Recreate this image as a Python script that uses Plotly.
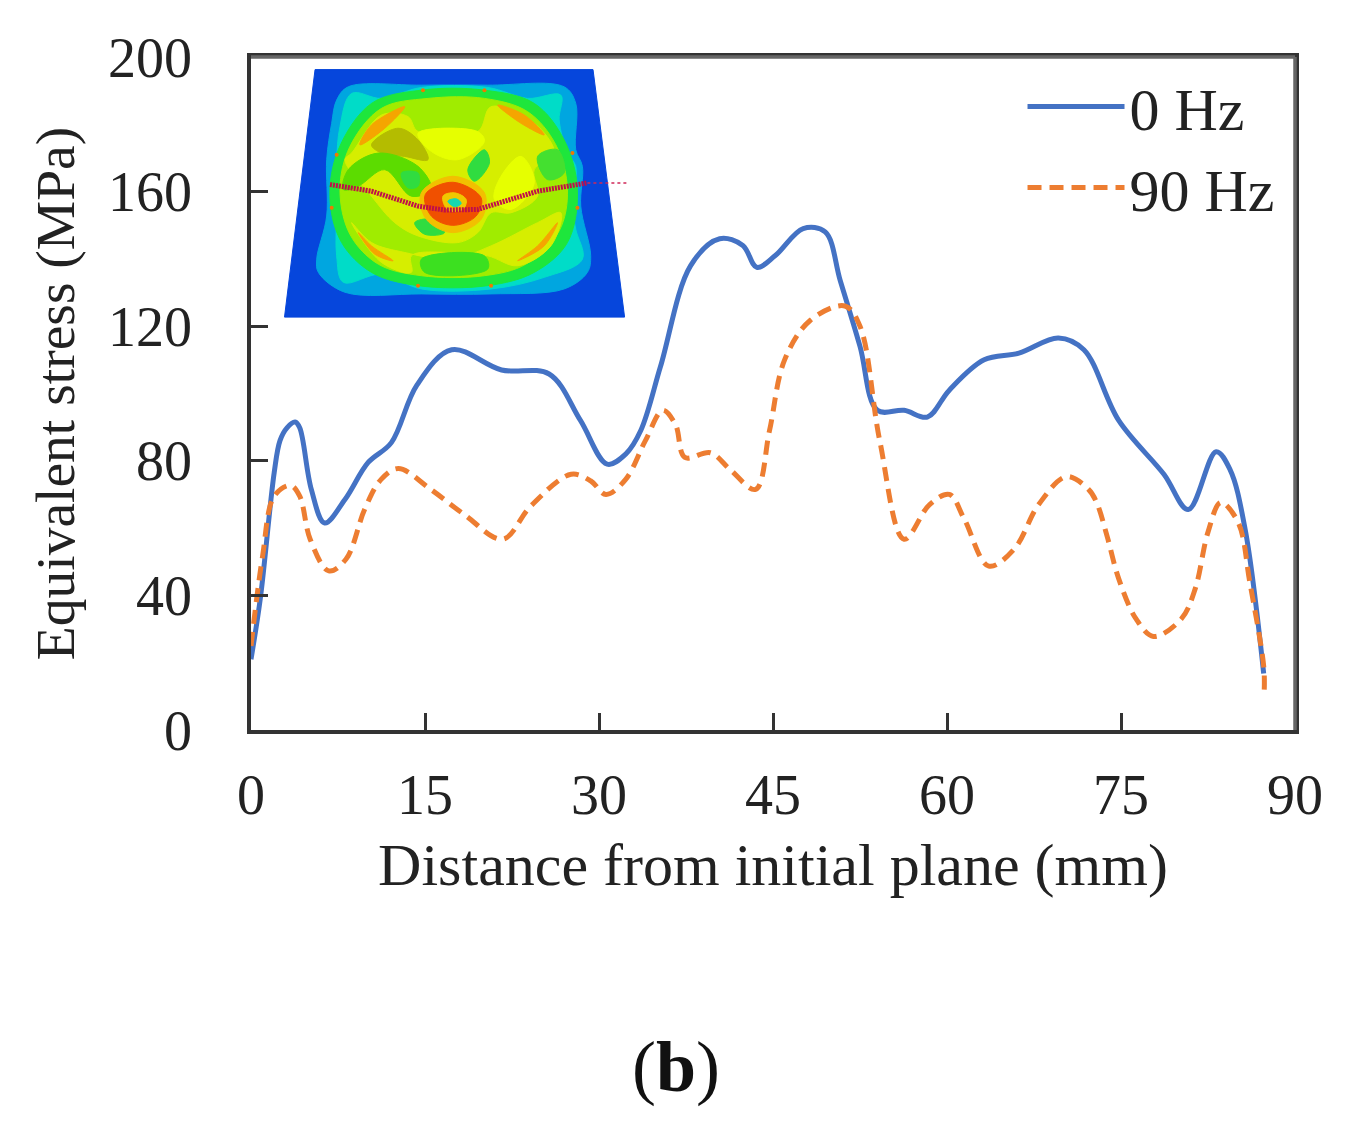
import plotly.graph_objects as go

# values
x_0hz = [0, 0.8, 2, 2.5, 3.1, 3.8, 4.2, 5.2, 6.35, 8.1, 10.1, 12.1, 14.3, 17.3, 21.6, 25.7, 28.4,
         30.7, 32.3, 33.6, 35.3, 37.9, 40.4, 42.4, 43.6, 45.2, 47.6, 49.5, 50.8, 52.5, 54,
         56.3, 58.3, 60.2, 63.2, 66.2, 69.6, 71.8, 74.8, 78.7, 80.8, 83.2, 84.4, 85.7, 87.3]
y_0hz = [21, 39, 76.5, 86, 89.8, 91.5, 89.8, 71.5, 61.5, 68.5, 79.5, 85.4, 102.5, 113, 107, 105.8, 92,
         79, 82, 89, 108, 138, 146, 144, 137.5, 141, 149, 148, 133.5, 114, 95,
         95, 93, 101, 110, 112, 116.5, 113, 92, 76, 65.5, 82.7, 77.4, 59.7, 16.8]

x_90hz = [0, 1, 2, 3.4, 4.2, 5.1, 6.7, 8.2, 9.8, 11.2, 12.7, 15.5, 18.4, 21.7, 24.1, 27.6, 29.3,
          30.6, 32.3, 34, 35.5, 36.6, 37.4, 39.6, 41.3, 43.5, 44.7, 46, 48.2, 51.2, 52.5, 54.2,
          56.3, 58.5, 60.2, 61.5, 63.6, 65.8, 67.9, 70.3, 72.2, 72.9, 73.8, 74.8, 76.3, 77.8,
          80.2, 81.4, 82.5, 83.6, 85.1, 86.1, 87.3, 87.35]
y_90hz = [25, 51.7, 69.5, 72.7, 69.5, 56.7, 47.3, 50.8, 65.6, 74.4, 77.7, 71.5, 64, 56.7, 66.5, 76, 74,
          70, 74.5, 86, 95, 90.7, 81, 82.4, 77.4, 71.5, 89, 110, 121.7, 126, 120, 86,
          56.7, 67, 70, 62.6, 48.7, 53.8, 67, 75.3, 71.5, 67.6, 57.6, 45, 33, 27.8,
          33, 42, 58.8, 67.6, 61.7, 44, 19, 12]

x_ticks = [0, 15, 30, 45, 60, 75, 90]
y_ticks = [0, 40, 80, 120, 160, 200]

# inset contour picture, as (colour, outline) layers
inset_plate = ("#0646dc", [(130, 38), (967, 38), (1062, 785), (38, 785)])
inset_smooth = [
    ("#00a6e0", [(230, 90), (450, 85), (650, 85), (880, 90), (915, 140), (915, 280), (935, 330), (930, 450),
                 (960, 600), (950, 650), (880, 700), (660, 715), (450, 715), (220, 710), (140, 650), (135, 610),
                 (165, 480), (165, 310), (180, 200), (195, 130)]),
    ("#00dcc8", [(240, 110), (330, 125), (450, 92), (650, 92), (770, 125), (870, 115), (865, 190), (890, 290),
                 (915, 330), (905, 450), (915, 520), (935, 610), (820, 665), (660, 700), (450, 700), (330, 655),
                 (215, 680), (195, 600), (195, 470), (195, 320), (205, 210)]),
    ("#1ee63c", [(450, 100), (640, 100), (790, 140), (880, 250), (920, 400), (890, 560), (790, 650), (650, 690),
                 (440, 690), (300, 650), (210, 560), (175, 430), (200, 280), (300, 140)]),
    ("#a0ec00", [(470, 125), (640, 125), (770, 165), (855, 265), (890, 400), (865, 525), (765, 625), (640, 660),
                 (450, 660), (320, 625), (235, 535), (205, 400), (235, 270), (330, 155)]),
    ("#d6ee00", [(240, 290), (330, 175), (410, 180), (440, 225), (620, 225), (660, 150), (790, 200), (850, 290),
                 (790, 340), (800, 420), (720, 470), (660, 470), (620, 530), (560, 560), (440, 540), (370, 500),
                 (300, 420), (220, 310)]),
    ("#d6ee00", [(240, 500), (300, 560), (400, 590), (540, 610), (660, 570), (800, 500), (870, 470), (840, 570),
                 (740, 630), (650, 600), (540, 590), (420, 600), (420, 650), (330, 620)]),
    ("#b4bc00", [(300, 265), (380, 215), (440, 250), (470, 310), (400, 300), (330, 290)]),
    ("#e6ff00", [(440, 230), (620, 225), (640, 255), (560, 310), (480, 285)]),
    ("#e6ff00", [(690, 360), (750, 300), (790, 380), (720, 460), (670, 430)]),
    ("#5cdc00", [(230, 340), (320, 290), (440, 330), (480, 400), (420, 420), (340, 340), (260, 390), (215, 400)]),
    ("#30dc40", [(590, 340), (640, 280), (655, 320), (610, 375)]),
    ("#30dc40", [(390, 350), (440, 350), (440, 390), (410, 395)]),
    ("#44e030", [(800, 300), (860, 280), (880, 350), (830, 370)]),
    ("#30dc40", [(430, 500), (480, 490), (520, 530), (460, 535)]),
    ("#3ce020", [(450, 610), (640, 600), (650, 640), (460, 650)]),
    ("#f5a500", [(265, 265), (300, 205), (400, 150), (340, 215)]),
    ("#f5a500", [(680, 145), (760, 175), (820, 235), (750, 200)]),
    ("#f5a500", [(260, 530), (300, 570), (365, 615), (310, 595)]),
    ("#f5a500", [(740, 615), (800, 570), (860, 500), (820, 570)]),
    ("#f2c000", [(450, 410), (545, 360), (640, 410), (630, 490), (545, 530), (465, 490)]),
    ("#f05000", [(462, 415), (545, 378), (630, 425), (615, 480), (545, 508), (480, 480)]),
    ("#f0c800", [(515, 420), (550, 410), (585, 430), (575, 460), (530, 462)]),
    ("#16d8b0", [(530, 435), (555, 428), (570, 442), (550, 452)]),
]
inset_spots_x = [455, 640, 195, 905, 180, 920, 440, 660]
inset_spots_y = [100, 100, 295, 290, 455, 455, 690, 690]
path_x = [175, 300, 440, 520, 620, 800, 950]
path_y = [385, 405, 450, 462, 460, 405, 380]
path_end_x = [950, 1070]
path_end_y = [380, 380]

fig = go.Figure()


def add_layer(colour, outline, shape="linear"):
    xs = [p[0] for p in outline] + [outline[0][0]]
    ys = [p[1] for p in outline] + [outline[0][1]]
    fig.add_trace(go.Scatter(x=xs, y=ys, mode="lines", fill="toself", fillcolor=colour,
                             line=dict(color=colour, width=1, shape=shape),
                             xaxis="x2", yaxis="y2", showlegend=False, hoverinfo="skip"))


add_layer(*inset_plate)
for colour, outline in inset_smooth:
    add_layer(colour, outline, "spline")
fig.add_trace(go.Scatter(x=inset_spots_x, y=inset_spots_y, mode="markers",
                         marker=dict(color="#f07800", size=4), xaxis="x2", yaxis="y2",
                         showlegend=False, hoverinfo="skip"))
fig.add_trace(go.Scatter(x=path_x, y=path_y, mode="lines", line=dict(color="#c01048", width=5, dash="2px,1px"),
                         xaxis="x2", yaxis="y2", showlegend=False, hoverinfo="skip"))
fig.add_trace(go.Scatter(x=path_end_x, y=path_end_y, mode="lines", line=dict(color="#d02858", width=1.5, dash="dot"),
                         xaxis="x2", yaxis="y2", showlegend=False, hoverinfo="skip"))

fig.add_trace(go.Scatter(x=x_0hz, y=y_0hz, name="0 Hz", mode="lines", legendgroup="a",
                         line=dict(color="#4472c4", width=5, shape="spline", smoothing=1)))
fig.add_trace(go.Scatter(x=x_90hz, y=y_90hz, name="90 Hz", mode="lines", legendgroup="b",
                         line=dict(color="#ed7d31", width=5, shape="spline", smoothing=1, dash="14px,8px")))

tick_font = dict(family="Liberation Serif", size=56, color="#222")
fig.update_layout(
    width=1350, height=1132, autosize=False,
    margin=dict(l=242.5, r=62.5, t=48.5, b=409.5),
    plot_bgcolor="white", paper_bgcolor="white",
    font=tick_font,
    xaxis=dict(range=[0, 90], tickvals=x_ticks, ticks="inside", ticklen=17, tickwidth=2.5, tickcolor="#333",
               ticklabelstandoff=13,
               showgrid=False, zeroline=False, showline=True, linecolor="#333", linewidth=3.5, mirror=True,
               tickfont=tick_font,
               title=dict(text="Distance from initial plane (mm)", standoff=19,
                          font=dict(family="Liberation Serif", size=60, color="#222"))),
    yaxis=dict(range=[0, 200], tickvals=y_ticks, ticks="inside", ticklen=17, tickwidth=2.5, tickcolor="#333",
               ticklabelstandoff=44,
               showgrid=False, zeroline=False, showline=True, linecolor="#333", linewidth=3.5, mirror=True,
               tickfont=tick_font,
               title=dict(text="Equivalent stress (MPa)", standoff=17,
                          font=dict(family="Liberation Serif", size=55.5, color="#222"))),
    xaxis2=dict(domain=[0.02, 0.3731], range=[0, 1110], visible=False, anchor="y2"),
    yaxis2=dict(domain=[0.5938, 1.0], range=[825, 0], visible=False, anchor="x2"),
    legend=dict(x=0.739, y=0.994, xanchor="left", yanchor="top", itemwidth=97, tracegroupgap=0,
                bgcolor="rgba(0,0,0,0)", font=dict(family="Liberation Serif", size=60, color="#222")),
    shapes=[dict(type="line", xref="paper", yref="paper", x0=0, x1=1, y0=1, y1=1, line=dict(color="#666", width=3.5)),
            dict(type="line", xref="paper", yref="paper", x0=1, x1=1, y0=0, y1=1, line=dict(color="#666", width=3.5))],
    annotations=[dict(text="(<b>b</b>)", x=0.407, y=-0.5625, xref="paper", yref="paper", showarrow=False,
                      font=dict(family="Liberation Serif", size=72, color="#111"))],
)

fig.write_html("out.html")
